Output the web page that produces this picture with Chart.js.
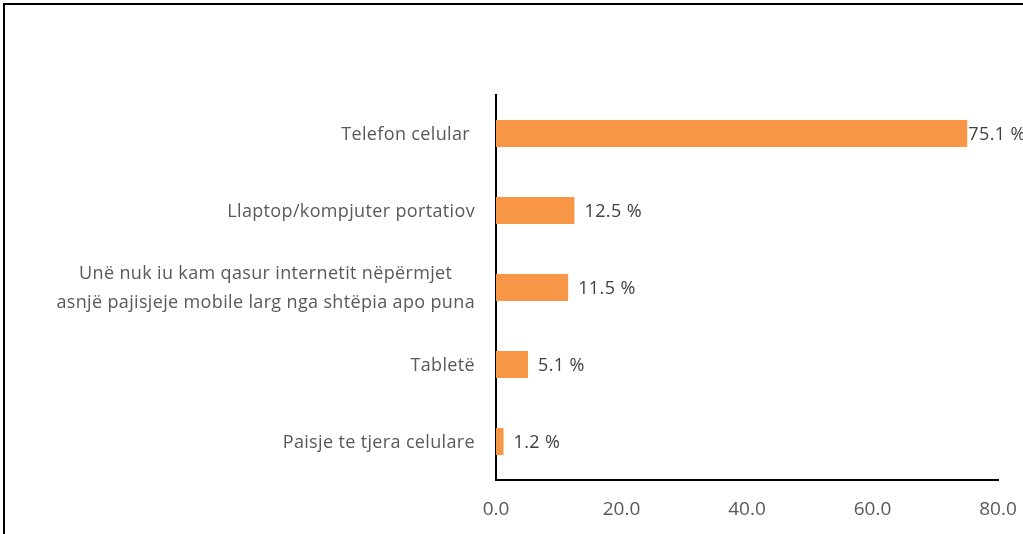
<!DOCTYPE html>
<html><head><meta charset="utf-8">
<script src="https://cdn.jsdelivr.net/npm/chart.js@4/dist/chart.umd.min.js"></script>
<style>
html,body{margin:0;padding:0;background:#fff;width:1023px;height:534px;overflow:hidden;}
#wrap{position:absolute;left:0;top:0;width:1023px;height:534px;}
#frame{position:absolute;left:3px;top:3px;width:1030px;height:560px;border:2px solid #000;box-sizing:border-box;pointer-events:none;}
</style></head>
<body>
<div id="wrap"><canvas id="c" width="1023" height="534"></canvas></div>
<div id="frame"></div>
<script>
const categories = [
  ["Telefon celular "],
  ["Llaptop/kompjuter portatiov"],
  ["Unë nuk iu kam qasur internetit nëpërmjet", "asnjë pajisjeje mobile larg nga shtëpia apo puna"],
  ["Tabletë"],
  ["Paisje te tjera celulare"]
];
const values = [75.1, 12.5, 11.5, 5.1, 1.2];
const xTicks = [0, 20, 40, 60, 80];

const FONT = "'Open Sans', sans-serif";
const FS = 18;
const TICK_FS = 19;

const catLabelPlugin = {
  id: 'catLabels',
  afterDraw(chart) {
    const ctx = chart.ctx;
    const y = chart.scales.y;
    ctx.save();
    ctx.font = FS + "px " + FONT;
    ctx.letterSpacing = '0.35px';
    ctx.fillStyle = '#595959';
    ctx.textBaseline = 'middle';
    ctx.textAlign = 'center';
    const right = y.right - 21;
    const lh = 29;
    categories.forEach((lines, i) => {
      const cy = y.getPixelForTick(i) + 1;
      const w = Math.max(...lines.map(l => ctx.measureText(l).width));
      const cx = right - w / 2;
      const y0 = cy - (lines.length - 1) * lh / 2;
      lines.forEach((l, j) => ctx.fillText(l, cx, y0 + j * lh));
    });
    ctx.restore();
  }
};

const valueLabelPlugin = {
  id: 'valueLabels',
  afterDatasetsDraw(chart) {
    const ctx = chart.ctx;
    const meta = chart.getDatasetMeta(0);
    ctx.save();
    ctx.font = FS + "px " + FONT;
    ctx.letterSpacing = '0.4px';
    ctx.fillStyle = '#404040';
    ctx.textBaseline = 'middle';
    ctx.textAlign = 'left';
    meta.data.forEach((bar, i) => {
      const txt = values[i].toFixed(1) + ' %';
      const w = ctx.measureText(txt).width;
      let x = bar.x + 10;
      if (x + w > chart.width - 4) x = bar.x + 1;
      ctx.fillText(txt, x, bar.y + 1);
    });
    ctx.restore();
  }
};

new Chart(document.getElementById('c'), {
  type: 'bar',
  data: {
    labels: categories.map(c => c.join(' ')),
    datasets: [{
      data: values,
      backgroundColor: '#F79646',
      borderWidth: 0,
      barPercentage: 1,
      categoryPercentage: 0.35
    }]
  },
  options: {
    indexAxis: 'y',
    responsive: false,
    animation: false,
    devicePixelRatio: 1,
    layout: { padding: { left: 0, right: 25, top: 95, bottom: 0 } },
    plugins: { legend: { display: false }, tooltip: { enabled: false } },
    scales: {
      x: {
        min: 0, max: 80,
        afterBuildTicks(s) { s.ticks = xTicks.map(v => ({ value: v })); },
        afterFit(s) { s.height = 534 - 480; s.paddingLeft = 0; s.paddingRight = 0; },
        grid: { display: false, drawTicks: false },
        border: { display: true, color: '#000', width: 2 },
        ticks: {
          padding: 18,
          color: '#595959',
          font: { family: FONT, size: TICK_FS },
          callback: v => Number(v).toFixed(1),
          maxRotation: 0
        }
      },
      y: {
        afterFit(s) { s.width = 496; },
        grid: { display: false, drawTicks: false },
        border: { display: true, color: '#000', width: 2 },
        ticks: { display: false }
      }
    }
  },
  plugins: [catLabelPlugin, valueLabelPlugin]
});
</script>
</body></html>
